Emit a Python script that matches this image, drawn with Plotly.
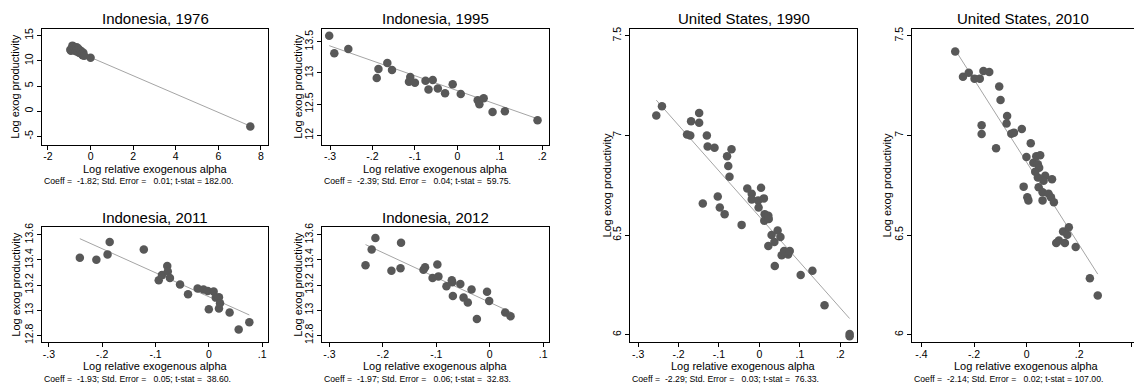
import plotly.graph_objects as go

W, H = 1134, 392
FONT = "Liberation Sans, Arial, Helvetica, sans-serif"

titles = ["Indonesia, 1976", "Indonesia, 1995", "Indonesia, 2011", "Indonesia, 2012",
          "United States, 1990", "United States, 2010"]
notes = [
    ("-1.82", "0.01", "182.00"),
    ("-2.39", "0.04", "59.75"),
    ("-1.93", "0.05", "38.60"),
    ("-1.97", "0.06", "32.83"),
    ("-2.29", "0.03", "76.33"),
    ("-2.14", "0.02", "107.00"),
]

# ---- data ----
x1976 = [-0.95, -0.92, -0.88, -0.85, -0.82, -0.8, -0.77, -0.74, -0.7, -0.68, -0.65, -0.62, -0.6,
         -0.57, -0.54, -0.5, -0.47, -0.44, -0.4, -0.37, -0.34, -0.3, 0.0, 7.5]
y1976 = [12.2, 12.0, 12.5, 13.0, 12.3, 12.8, 12.1, 12.6, 12.4, 11.9, 12.7, 12.2, 11.8,
         12.4, 11.6, 12.1, 11.5, 11.9, 11.3, 11.1, 11.6, 11.0, 10.6, -3.0]
fit1976_x = [-0.95, 7.5]
fit1976_y = [12.4, -2.95]

x1995 = [-0.302, -0.290, -0.257, -0.190, -0.186, -0.165, -0.154, -0.111, -0.114, -0.100, -0.075,
         -0.068, -0.058, -0.046, -0.029, -0.011, 0.008, 0.048, 0.052, 0.062, 0.083, 0.112, 0.189]
y1995 = [13.595, 13.316, 13.384, 12.921, 13.063, 13.158, 13.047, 12.937, 12.858, 12.842, 12.874,
         12.737, 12.889, 12.753, 12.674, 12.821, 12.663, 12.563, 12.500, 12.595, 12.374, 12.389, 12.242]
fit1995_x = [-0.302, 0.192]
fit1995_y = [13.437, 12.260]

x2011 = [-0.242, -0.211, -0.190, -0.186, -0.122, -0.094, -0.088, -0.078, -0.077, -0.073, -0.054,
         -0.039, -0.021, -0.010, -0.002, 0.000, 0.009, 0.013, 0.019, 0.019, 0.021, 0.039, 0.056, 0.076]
y2011 = [13.418, 13.402, 13.444, 13.543, 13.483, 13.238, 13.279, 13.352, 13.308, 13.256, 13.204,
         13.126, 13.173, 13.165, 13.152, 13.008, 13.149, 13.100, 13.102, 13.014, 13.055, 12.982, 12.847, 12.904]
fit2011_x = [-0.242, 0.076]
fit2011_y = [13.569, 12.962]

x2012 = [-0.2325, -0.221, -0.214, -0.184, -0.167, -0.166, -0.124, -0.121, -0.107, -0.098, -0.096,
         -0.071, -0.070, -0.081, -0.055, -0.069, -0.049, -0.041, -0.034, -0.024, -0.005, -0.001, 0.029, 0.039]
y2012 = [13.358, 13.483, 13.574, 13.313, 13.334, 13.537, 13.321, 13.342, 13.256, 13.363, 13.269,
         13.238, 13.222, 13.191, 13.209, 13.113, 13.100, 13.061, 13.165, 12.930, 13.147, 13.074, 12.982, 12.951]
fit2012_x = [-0.2325, 0.0406]
fit2012_y = [13.522, 12.982]

x1990 = [-0.255, -0.241, -0.169, -0.149, -0.149, -0.179, -0.171, -0.130, -0.128, -0.111, -0.069,
         -0.080, -0.077, -0.074, -0.103, -0.140, -0.098, -0.086, -0.044, -0.030, -0.019, -0.019,
         -0.003, -0.002, 0.004, 0.011, 0.013, 0.012, 0.022, 0.023, 0.030, 0.045, 0.052, 0.037,
         0.022, 0.055, 0.061, 0.071, 0.075, 0.038, 0.102, 0.131, 0.161, 0.223, 0.223]
y1990 = [7.0995, 7.146, 7.071, 7.113, 7.063, 7.004, 7.000, 7.000, 6.944, 6.938, 6.931,
         6.895, 6.847, 6.793, 6.694, 6.658, 6.638, 6.605, 6.551, 6.734, 6.707, 6.679,
         6.674, 6.638, 6.737, 6.684, 6.605, 6.572, 6.597, 6.580, 6.500, 6.523, 6.490, 6.465,
         6.445, 6.399, 6.420, 6.402, 6.420, 6.345, 6.300, 6.321, 6.148, 6.003, 5.992]
fit1990_x = [-0.255, 0.223]
fit1990_y = [7.177, 6.081]

x2010 = [-0.2715, -0.242, -0.220, -0.198, -0.178, -0.164, -0.142, -0.104, -0.099, -0.171, -0.171,
         -0.116, -0.074, -0.076, -0.058, -0.048, -0.018, 0.016, -0.0004, -0.011, 0.003, 0.007,
         0.026, 0.037, 0.052, 0.043, 0.048, 0.033, 0.043, 0.071, 0.065, 0.097, 0.046, 0.061,
         0.061, 0.084, 0.093, 0.104, 0.113, 0.123, 0.139, 0.146, 0.155, 0.161, 0.187, 0.241, 0.271]
y2010 = [7.421, 7.295, 7.314, 7.285, 7.285, 7.323, 7.318, 7.245, 7.178, 7.051, 7.007,
         6.936, 7.097, 7.060, 7.009, 7.014, 7.032, 6.961, 6.892, 6.743, 6.690, 6.674,
         6.863, 6.895, 6.900, 6.855, 6.838, 6.818, 6.789, 6.797, 6.772, 6.780, 6.740, 6.715,
         6.674, 6.707, 6.690, 6.665, 6.460, 6.473, 6.518, 6.460, 6.501, 6.539, 6.440, 6.283, 6.197]
fit2010_x = [-0.2715, 0.271]
fit2010_y = [7.429, 6.304]

xs = [x1976, x1995, x2011, x2012, x1990, x2010]
ys = [y1976, y1995, y2011, y2012, y1990, y2010]
fxs = [fit1976_x, fit1995_x, fit2011_x, fit2012_x, fit1990_x, fit2010_x]
fys = [fit1976_y, fit1995_y, fit2011_y, fit2012_y, fit1990_y, fit2010_y]

xticks = [[-2, 0, 2, 4, 6, 8],
          [-0.3, -0.2, -0.1, 0, 0.1, 0.2],
          [-0.3, -0.2, -0.1, 0, 0.1],
          [-0.3, -0.2, -0.1, 0, 0.1],
          [-0.3, -0.2, -0.1, 0, 0.1, 0.2],
          [-0.4, -0.2, 0, 0.2, 0.4]]
xticklabels = [["-2", "0", "2", "4", "6", "8"],
               ["-.3", "-.2", "-.1", "0", ".1", ".2"],
               ["-.3", "-.2", "-.1", "0", ".1"],
               ["-.3", "-.2", "-.1", "0", ".1"],
               ["-.3", "-.2", "-.1", "0", ".1", ".2"],
               ["-.4", "-.2", "0", ".2", ".4"]]
yticks = [[-5, 0, 5, 10, 15],
          [12, 12.5, 13, 13.5],
          [12.8, 13, 13.2, 13.4, 13.6],
          [12.8, 13, 13.2, 13.4, 13.6],
          [6, 6.5, 7, 7.5],
          [6, 6.5, 7, 7.5]]
yticklabels = [["-5", "0", "5", "10", "15"],
               ["12", "12.5", "13", "13.5"],
               ["12.8", "13", "13.2", "13.4", "13.6"],
               ["12.8", "13", "13.2", "13.4", "13.6"],
               ["6", "6.5", "7", "7.5"],
               ["6", "6.5", "7", "7.5"]]

# ---- layout geometry (pixels) ----
boxes = [(42, 268, 25, 143), (322, 549, 25, 143),
         (42, 268, 226.7, 343.5), (322, 549, 226.7, 343.5),
         (630, 857.3, 25, 343.5), (912, 1134, 25, 343.5)]
xranges = [[-2.28, 8.33], [-0.319, 0.216], [-0.313, 0.111], [-0.314, 0.111],
           [-0.320, 0.242], [-0.436, 0.409]]
yranges = [[-6.65, 16.37], [11.85, 13.71], [12.745, 13.66], [12.745, 13.66],
           [5.962, 7.536], [5.962, 7.536]]
title_y = [15, 15, 216.7, 216.7, 15, 15]
xtitle_y = [167.5, 167.5, 368, 368, 368, 368]
note_y = [180, 180, 380.5, 380.5, 380.5, 380.5]
ytitle_x = [15, 298, 16, 298, 607, 887]
right_border = [True, True, True, True, True, False]

MARKER = "rgb(88,88,88)"
LINEC = "rgb(165,165,165)"

fig = go.Figure()
layout = dict(width=W, height=H, margin=dict(l=0, r=0, t=0, b=0),
              paper_bgcolor="white", plot_bgcolor="white", showlegend=False,
              font=dict(family=FONT, color="black"))
annotations = []


def px(v):
    return v / W


def py(v):
    return 1 - v / H


for i in range(6):
    n = "" if i == 0 else str(i + 1)
    x0, x1, y0, y1 = boxes[i]
    fig.add_trace(go.Scatter(x=fxs[i], y=fys[i], mode="lines",
                             line=dict(color=LINEC, width=1),
                             xaxis="x" + n, yaxis="y" + n, hoverinfo="skip"))
    fig.add_trace(go.Scatter(x=xs[i], y=ys[i], mode="markers",
                             marker=dict(color=MARKER, size=8.5, line=dict(width=0)),
                             xaxis="x" + n, yaxis="y" + n))
    layout["xaxis" + n] = dict(domain=[px(x0), min(px(x1), 1)], anchor="y" + n,
                               range=xranges[i], tickvals=xticks[i], ticktext=xticklabels[i],
                               showgrid=False, zeroline=False, showline=True, mirror=True,
                               linecolor="black", linewidth=1, ticks="outside", ticklen=4,
                               tickcolor="black", ticklabelstandoff=-2,
                               tickfont=dict(size=10.5, family=FONT))
    layout["yaxis" + n] = dict(domain=[py(y1), py(y0)], anchor="x" + n,
                               range=yranges[i], tickvals=yticks[i], ticktext=yticklabels[i],
                               showgrid=False, zeroline=False, showline=True,
                               mirror=right_border[i],
                               linecolor="black", linewidth=1, ticks="outside", ticklen=4,
                               tickcolor="black", tickangle=-90,
                               tickfont=dict(size=10.5, family=FONT))
    cx = (x0 + x1) / 2
    cy = (y0 + y1) / 2
    annotations.append(dict(text=titles[i], x=px(cx), y=py(title_y[i]), xref="paper", yref="paper",
                            xanchor="center", yanchor="middle", showarrow=False,
                            font=dict(size=15, family=FONT)))
    xt_cx = cx if right_border[i] else (x0 + 1140) / 2
    annotations.append(dict(text="Log relative exogenous alpha", x=px(xt_cx), y=py(xtitle_y[i]),
                            xref="paper", yref="paper", xanchor="center", yanchor="middle",
                            showarrow=False, font=dict(size=11, family=FONT)))
    annotations.append(dict(text="Log exog productivity", x=px(ytitle_x[i]), y=py(cy),
                            xref="paper", yref="paper", xanchor="center", yanchor="middle",
                            textangle=-90, showarrow=False, font=dict(size=11, family=FONT)))
    c, se, t = notes[i]
    nb = "\u00a0"
    note = ("Coeff =" + nb + c.rjust(6, nb) + "; Std. Error =" + nb + se.rjust(6, nb)
            + "; t-stat =" + nb + t.rjust(6, nb) + ".")
    annotations.append(dict(text=note, x=px(x0), y=py(note_y[i]), xref="paper", yref="paper",
                            xanchor="left", yanchor="middle", showarrow=False,
                            font=dict(size=8.7, family=FONT)))

layout["annotations"] = annotations
fig.update_layout(**layout)
fig.write_html("out.html", config={"displayModeBar": False},
               post_script="document.body.style.margin='0';document.body.style.overflow='hidden';")
